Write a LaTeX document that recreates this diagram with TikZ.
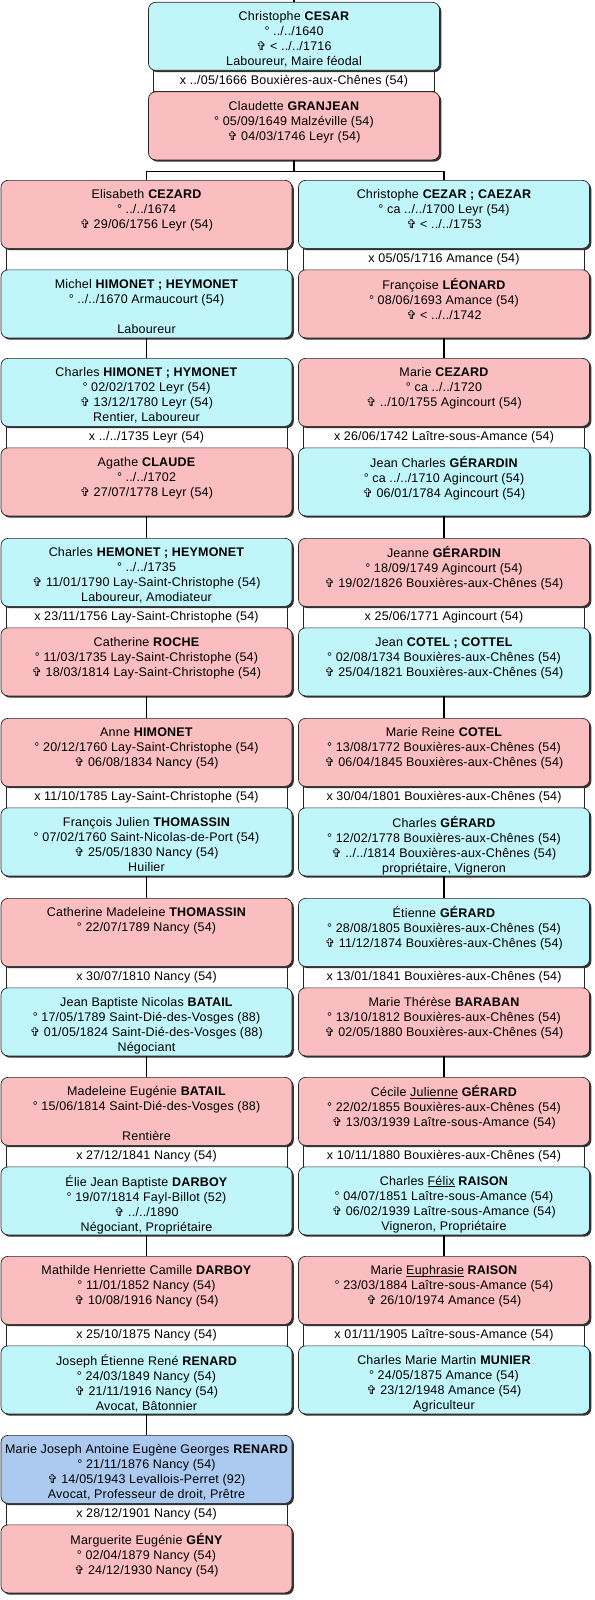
\documentclass[tikz,border=0pt]{standalone}
\usepackage{fontspec}
\setmainfont[LetterSpace=1.5]{Liberation Sans}
\newfontfamily\symfont{DejaVu Sans}
\usetikzlibrary{shadows,calc}
\definecolor{cyanbox}{RGB}{192,246,250}
\definecolor{pinkbox}{RGB}{250,190,192}
\definecolor{bluebox}{RGB}{172,202,240}
\newcommand\dc{{\symfont\fontsize{12}{12}\selectfont ✞}}
\newcommand\ulname[1]{\underline{\smash{#1}}}
\newcommand\personnode[5]{%
  \node[personbox, fill=#4] (#1) at (#2,#3) {};
  \node[persontext] (#1t) at ([yshift=-8.5pt]#1.north) {\rule{0pt}{10pt}#5};
}
\newcommand\marrnode[4]{%
  \node[marrbox] (#1) at (#2,#3) {#4};
}
\newcommand\couple[8]{%
  \marrnode{#1m}{#2}{#3+67.5}{#6}
  \personnode{#1a}{#2}{#3}{#4}{#5}
  \personnode{#1b}{#2}{#3+89.5}{#7}{#8}
}
\tikzset{
  personbox/.style={rectangle, rounded corners=7pt, draw=black!85, line width=0.7pt,
    minimum width=291pt, minimum height=68pt, anchor=north, inner sep=0pt,
    drop shadow={shadow xshift=1.8pt, shadow yshift=-1.8pt, fill=black!80, opacity=1}},
  persontext/.style={anchor=north, align=center, inner sep=0pt, font=\fontsize{12.5}{15}\selectfont},
  marrbox/.style={rectangle, draw=black!85, fill=white, line width=0.7pt,
    minimum width=281pt, minimum height=22pt, anchor=north, inner sep=0pt,
    font=\fontsize{12.5}{15}\selectfont},
  conn/.style={draw=black, line width=1.2pt}
}
\begin{document}
\begin{tikzpicture}[x=1pt,y=-1pt]
\fill[white] (0,0) rectangle (594,1600);
\useasboundingbox (0,0) rectangle (594,1600);

% top couple
\couple{t}{294}{2}{cyanbox}{Christophe \textbf{CESAR}\\° ../../1640\\\dc\ < ../../1716\\Laboureur, Maire féodal}
  {x ../05/1666 Bouxières-aux-Chênes (54)}
  {pinkbox}{Claudette \textbf{GRANJEAN}\\° 05/09/1649 Malzéville (54)\\\dc\ 04/03/1746 Leyr (54)}

% generation 1
\couple{gA}{146.5}{180}{pinkbox}{Elisabeth \textbf{CEZARD}\\° ../../1674\\\dc\ 29/06/1756 Leyr (54)}
  {}
  {cyanbox}{Michel \textbf{HIMONET ; HEYMONET}\\° ../../1670 Armaucourt (54)\\~\\Laboureur}
\couple{hA}{444}{180}{cyanbox}{Christophe \textbf{CEZAR ; CAEZAR}\\° ca ../../1700 Leyr (54)\\\dc\ < ../../1753}
  {x 05/05/1716 Amance (54)}
  {pinkbox}{Françoise \textbf{LÉONARD}\\° 08/06/1693 Amance (54)\\\dc\ < ../../1742}

% generation 2
\couple{gB}{146.5}{358}{cyanbox}{Charles \textbf{HIMONET ; HYMONET}\\° 02/02/1702 Leyr (54)\\\dc\ 13/12/1780 Leyr (54)\\Rentier, Laboureur}
  {x ../../1735 Leyr (54)}
  {pinkbox}{Agathe \textbf{CLAUDE}\\° ../../1702\\\dc\ 27/07/1778 Leyr (54)}
\couple{hB}{444}{358}{pinkbox}{Marie \textbf{CEZARD}\\° ca ../../1720\\\dc\ ../10/1755 Agincourt (54)}
  {x 26/06/1742 Laître-sous-Amance (54)}
  {cyanbox}{Jean Charles \textbf{GÉRARDIN}\\° ca ../../1710 Agincourt (54)\\\dc\ 06/01/1784 Agincourt (54)}

% generation 3
\couple{gC}{146.5}{538}{cyanbox}{Charles \textbf{HEMONET ; HEYMONET}\\° ../../1735\\\dc\ 11/01/1790 Lay-Saint-Christophe (54)\\Laboureur, Amodiateur}
  {x 23/11/1756 Lay-Saint-Christophe (54)}
  {pinkbox}{Catherine \textbf{ROCHE}\\° 11/03/1735 Lay-Saint-Christophe (54)\\\dc\ 18/03/1814 Lay-Saint-Christophe (54)}
\couple{hC}{444}{538}{pinkbox}{Jeanne \textbf{GÉRARDIN}\\° 18/09/1749 Agincourt (54)\\\dc\ 19/02/1826 Bouxières-aux-Chênes (54)}
  {x 25/06/1771 Agincourt (54)}
  {cyanbox}{Jean \textbf{COTEL ; COTTEL}\\° 02/08/1734 Bouxières-aux-Chênes (54)\\\dc\ 25/04/1821 Bouxières-aux-Chênes (54)}

% generation 4
\couple{gD}{146.5}{718}{pinkbox}{Anne \textbf{HIMONET}\\° 20/12/1760 Lay-Saint-Christophe (54)\\\dc\ 06/08/1834 Nancy (54)}
  {x 11/10/1785 Lay-Saint-Christophe (54)}
  {cyanbox}{François Julien \textbf{THOMASSIN}\\° 07/02/1760 Saint-Nicolas-de-Port (54)\\\dc\ 25/05/1830 Nancy (54)\\Huilier}
\couple{hD}{444}{718}{pinkbox}{Marie Reine \textbf{COTEL}\\° 13/08/1772 Bouxières-aux-Chênes (54)\\\dc\ 06/04/1845 Bouxières-aux-Chênes (54)}
  {x 30/04/1801 Bouxières-aux-Chênes (54)}
  {cyanbox}{Charles \textbf{GÉRARD}\\° 12/02/1778 Bouxières-aux-Chênes (54)\\\dc\ ../../1814 Bouxières-aux-Chênes (54)\\propriétaire, Vigneron}

% generation 5
\couple{gE}{146.5}{898}{pinkbox}{Catherine Madeleine \textbf{THOMASSIN}\\° 22/07/1789 Nancy (54)}
  {x 30/07/1810 Nancy (54)}
  {cyanbox}{Jean Baptiste Nicolas \textbf{BATAIL}\\° 17/05/1789 Saint-Dié-des-Vosges (88)\\\dc\ 01/05/1824 Saint-Dié-des-Vosges (88)\\Négociant}
\couple{hE}{444}{898}{cyanbox}{Étienne \textbf{GÉRARD}\\° 28/08/1805 Bouxières-aux-Chênes (54)\\\dc\ 11/12/1874 Bouxières-aux-Chênes (54)}
  {x 13/01/1841 Bouxières-aux-Chênes (54)}
  {pinkbox}{Marie Thérèse \textbf{BARABAN}\\° 13/10/1812 Bouxières-aux-Chênes (54)\\\dc\ 02/05/1880 Bouxières-aux-Chênes (54)}

% generation 6
\couple{gF}{146.5}{1077}{pinkbox}{Madeleine Eugénie \textbf{BATAIL}\\° 15/06/1814 Saint-Dié-des-Vosges (88)\\~\\Rentière}
  {x 27/12/1841 Nancy (54)}
  {cyanbox}{Élie Jean Baptiste \textbf{DARBOY}\\° 19/07/1814 Fayl-Billot (52)\\\dc\ ../../1890\\Négociant, Propriétaire}
\couple{hF}{444}{1077}{pinkbox}{Cécile \ulname{Julienne} \textbf{GÉRARD}\\° 22/02/1855 Bouxières-aux-Chênes (54)\\\dc\ 13/03/1939 Laître-sous-Amance (54)}
  {x 10/11/1880 Bouxières-aux-Chênes (54)}
  {cyanbox}{Charles \ulname{Félix} \textbf{RAISON}\\° 04/07/1851 Laître-sous-Amance (54)\\\dc\ 06/02/1939 Laître-sous-Amance (54)\\Vigneron, Propriétaire}

% generation 7
\couple{gG}{146.5}{1256}{pinkbox}{Mathilde Henriette Camille \textbf{DARBOY}\\° 11/01/1852 Nancy (54)\\\dc\ 10/08/1916 Nancy (54)}
  {x 25/10/1875 Nancy (54)}
  {cyanbox}{Joseph Étienne René \textbf{RENARD}\\° 24/03/1849 Nancy (54)\\\dc\ 21/11/1916 Nancy (54)\\Avocat, Bâtonnier}
\couple{hG}{444}{1256}{pinkbox}{Marie \ulname{Euphrasie} \textbf{RAISON}\\° 23/03/1884 Laître-sous-Amance (54)\\\dc\ 26/10/1974 Amance (54)}
  {x 01/11/1905 Laître-sous-Amance (54)}
  {cyanbox}{Charles Marie Martin \textbf{MUNIER}\\° 24/05/1875 Amance (54)\\\dc\ 23/12/1948 Amance (54)\\Agriculteur}

% generation 8
\couple{gH}{146.5}{1435}{bluebox}{Marie Joseph Antoine Eugène Georges \textbf{RENARD}\\° 21/11/1876 Nancy (54)\\\dc\ 14/05/1943 Levallois-Perret (92)\\Avocat, Professeur de droit, Prêtre}
  {x 28/12/1901 Nancy (54)}
  {pinkbox}{Marguerite Eugénie \textbf{GÉNY}\\° 02/04/1879 Nancy (54)\\\dc\ 24/12/1930 Nancy (54)}

% connectors
\coordinate (topstub) at (294,0);
\draw[conn] (topstub) -- (ta.north);
\draw[conn] (tb.south) -- ++(0,11) -| (gAa.north);
\draw[conn] (tb.south) -- ++(0,11) -| (hAa.north);
\draw[conn] (gAb.south) -- (gBa.north);
\draw[conn] (gBb.south) -- (gCa.north);
\draw[conn] (gCb.south) -- (gDa.north);
\draw[conn] (gDb.south) -- (gEa.north);
\draw[conn] (gEb.south) -- (gFa.north);
\draw[conn] (gFb.south) -- (gGa.north);
\draw[conn] (gGb.south) -- (gHa.north);
\draw[conn] (hAb.south) -- (hBa.north);
\draw[conn] (hBb.south) -- (hCa.north);
\draw[conn] (hCb.south) -- (hDa.north);
\draw[conn] (hDb.south) -- (hEa.north);
\draw[conn] (hEb.south) -- (hFa.north);
\draw[conn] (hFb.south) -- (hGa.north);
\end{tikzpicture}
\end{document}
